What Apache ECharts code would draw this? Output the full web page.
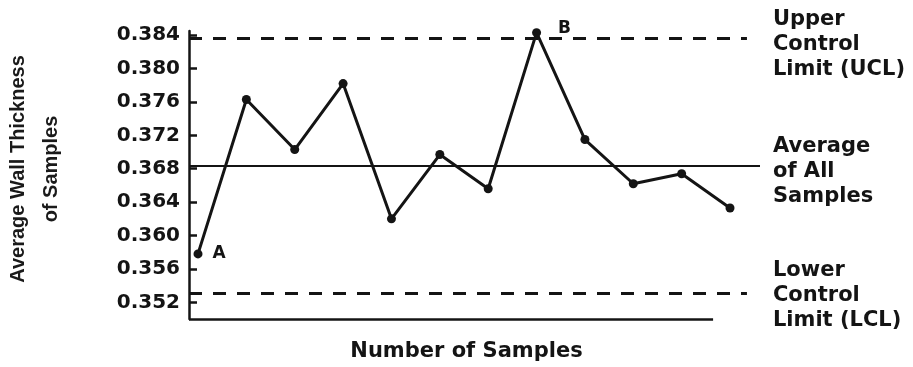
<!DOCTYPE html>
<html>
<head>
<meta charset="utf-8">
<script src="https://cdn.jsdelivr.net/npm/echarts@6/dist/echarts.min.js"></script>
<style>
  html, body { margin: 0; padding: 0; background: #ffffff; }
  #chart { width: 913px; height: 367px; }
</style>
</head>
<body>
<div id="chart"></div>
<script>
// ---- data ----
const samples = [1, 2, 3, 4, 5, 6, 7, 8, 9, 10, 11, 12];
const thickness = [0.3578, 0.3763, 0.3703, 0.3782, 0.3620, 0.3697, 0.3656, 0.3843, 0.3715, 0.3662, 0.3674, 0.3633];
const pointLabels = ['A', '', '', '', '', '', '', 'B', '', '', '', ''];
const yTicks = [0.352, 0.356, 0.360, 0.364, 0.368, 0.372, 0.376, 0.380, 0.384];
const controlValues = [0.3836, 0.3683, 0.3531];          // UCL, average, LCL
const controlNames = [['Upper', 'Control', 'Limit (UCL)'], ['Average', 'of All', 'Samples'], ['Lower', 'Control', 'Limit (LCL)']];
const xTitle = 'Number of Samples';
const yTitle = 'Average Wall Thickness\nof Samples';

// ---- layout / style ----
const X_MIN = 0.814, X_MAX = 12.62, Y_MIN = 0.350, Y_MAX = 0.3845;
const DASH_END = 12.35, AXIS_END = 11.65;
const ink = '#141414';
const FONT = '"DejaVu Sans", "Liberation Sans", sans-serif';

const chart = echarts.init(document.getElementById('chart'), null, { renderer: 'canvas' });

const pointData = samples.map((s, i) => {
  const item = { value: [s, thickness[i]] };
  if (pointLabels[i]) {
    item.label = {
      show: true,
      formatter: pointLabels[i],
      position: 'right',
      distance: i === 0 ? 10 : 17,
      offset: i === 0 ? [0, 0] : [0, -4],
      color: ink,
      fontFamily: FONT,
      fontWeight: 'bold',
      fontSize: 17
    };
  }
  return item;
});

// a small spacer line on top pushes the three text lines slightly below the mark line
const limitLabel = (lines, dist, spacer) => ({
  show: true,
  position: 'end',
  formatter: '{s| }\n' + lines.map(l => '{t|' + l + '}').join('\n'),
  distance: dist,
  align: 'left',
  rich: {
    s: { fontSize: 2, lineHeight: spacer },
    t: { color: ink, fontFamily: FONT, fontWeight: 'bold', fontSize: 21, lineHeight: 25 }
  }
});

const dashed = { type: [13, 11], width: 3, color: ink };

const option = {
  animation: false,
  backgroundColor: '#ffffff',
  grid: { left: 189, right: 153, top: 31, bottom: 48, containLabel: false, outerBoundsMode: 'none' },
  xAxis: {
    type: 'value',
    min: X_MIN,
    max: X_MAX,
    name: xTitle,
    nameLocation: 'middle',
    nameGap: 22,
    nameTextStyle: { color: ink, fontFamily: FONT, fontWeight: 'bold', fontSize: 21, padding: [0, 16, 0, 0] },
    axisLine: { show: false },
    axisTick: { show: false },
    axisLabel: { show: false },
    splitLine: { show: false }
  },
  yAxis: {
    type: 'value',
    min: Y_MIN,
    max: Y_MAX,
    name: yTitle,
    nameLocation: 'middle',
    nameRotate: 90,
    nameGap: 121,
    nameTextStyle: { color: '#1a1a1a', fontFamily: '"Liberation Sans", Arial, sans-serif', fontWeight: 'bold', fontSize: 20, lineHeight: 33, padding: [0, 0, 0, 12] },
    axisLine: { show: true, lineStyle: { color: ink, width: 2.5 } },
    axisTick: { show: true, inside: true, length: 8, lineStyle: { color: ink, width: 2.5 }, customValues: yTicks },
    axisLabel: {
      show: true,
      customValues: yTicks,
      formatter: v => v.toFixed(3),
      margin: 9,
      color: ink,
      fontFamily: FONT,
      fontWeight: 'bold',
      fontSize: 20
    },
    splitLine: { show: false }
  },
  series: [{
    type: 'line',
    data: pointData,
    clip: false,
    symbol: 'circle',
    symbolSize: 9,
    itemStyle: { color: ink },
    lineStyle: { color: ink, width: 3 },
    label: { show: false },
    markLine: {
      silent: true,
      precision: 5,
      symbol: ['none', 'none'],
      animation: false,
      data: [
        [
          { coord: [X_MIN, controlValues[0]], lineStyle: dashed, label: limitLabel(controlNames[0], 26, 12) },
          { coord: [DASH_END, controlValues[0]] }
        ],
        { yAxis: controlValues[1], lineStyle: { type: 'solid', width: 2, color: ink }, label: limitLabel(controlNames[1], 13, 10) },
        [
          { coord: [X_MIN, controlValues[2]], lineStyle: dashed, label: limitLabel(controlNames[2], 26, 4) },
          { coord: [DASH_END, controlValues[2]] }
        ],
        [
          { coord: [X_MIN, Y_MIN], lineStyle: { type: 'solid', width: 2.5, color: ink }, label: { show: false } },
          { coord: [AXIS_END, Y_MIN] }
        ]
      ]
    }
  }]
};

chart.setOption(option);
</script>
</body>
</html>
